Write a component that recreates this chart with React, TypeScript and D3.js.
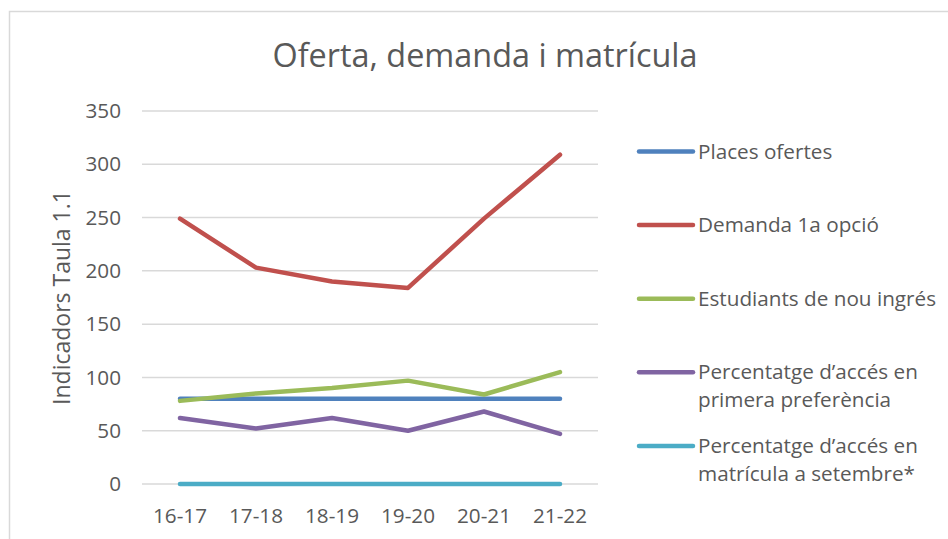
import React, { useEffect, useRef } from "react";
import * as d3 from "d3";

const categories = ["16-17", "17-18", "18-19", "19-20", "20-21", "21-22"];
const placesOfertes = [80, 80, 80, 80, 80, 80];
const demanda1a = [249, 203, 190, 184, 249, 309];
const nouIngres = [78, 85, 90, 97, 84, 105];
const accesPrimera = [62, 52, 62, 50, 68, 47];
const accesSetembre = [0, 0, 0, 0, 0, 0];
const yTicks = [0, 50, 100, 150, 200, 250, 300, 350];

const series = [
  { name: ["Places ofertes"], values: placesOfertes, color: "#4f81bd" },
  { name: ["Demanda 1a opció"], values: demanda1a, color: "#c0504d" },
  { name: ["Estudiants de nou ingrés"], values: nouIngres, color: "#9bbb59" },
  { name: ["Percentatge d’accés en", "primera preferència"], values: accesPrimera, color: "#8064a2" },
  { name: ["Percentatge d’accés en", "matrícula a setembre*"], values: accesSetembre, color: "#4bacc6" },
];

const W = 948;
const H = 539;
const FONT = "'Open Sans', Lato, sans-serif";
const TEXT = "#595959";

const App = () => {
  const svgRef = useRef(null);

  useEffect(() => {
    const svg = d3.select(svgRef.current);
    svg.selectAll("*").remove();

    const x = d3.scaleBand().domain(categories).range([142, 598]);
    const y = d3.scaleLinear().domain([0, 350]).range([484, 111]);
    const cx = (c) => x(c) + x.bandwidth() / 2;

    // chart area border (cut off at right/bottom)
    svg
      .append("rect")
      .attr("x", 9.5)
      .attr("y", 11.5)
      .attr("width", W + 20)
      .attr("height", H + 20)
      .attr("fill", "#fff")
      .attr("stroke", "#d9d9d9")
      .attr("stroke-width", 1.5);

    svg
      .append("text")
      .attr("x", 485)
      .attr("y", 67)
      .attr("text-anchor", "middle")
      .attr("font-family", FONT)
      .attr("font-size", 32.4)
      .attr("fill", TEXT)
      .text("Oferta, demanda i matrícula");

    // gridlines
    svg
      .append("g")
      .selectAll("line")
      .data(yTicks)
      .enter()
      .append("line")
      .attr("x1", 142)
      .attr("x2", 598)
      .attr("y1", (d) => y(d))
      .attr("y2", (d) => y(d))
      .attr("stroke", "#d9d9d9")
      .attr("stroke-width", 1.5);

    const yAxis = svg
      .append("g")
      .attr("transform", "translate(121,0)")
      .call(d3.axisLeft(y).tickValues(yTicks).tickSize(0).tickPadding(0));
    yAxis.select(".domain").remove();
    yAxis
      .selectAll("text")
      .attr("font-family", FONT)
      .attr("font-size", 20.7)
      .attr("fill", TEXT);

    const xAxis = svg
      .append("g")
      .attr("transform", "translate(0,523)")
      .call(d3.axisBottom(x).tickSize(0).tickPadding(0));
    xAxis.select(".domain").remove();
    xAxis
      .selectAll("text")
      .attr("y", 0)
      .attr("dy", 0)
      .attr("font-family", FONT)
      .attr("font-size", 20.7)
      .attr("fill", TEXT);

    svg
      .append("text")
      .attr("transform", `translate(70,${y(175)}) rotate(-90)`)
      .attr("text-anchor", "middle")
      .attr("font-family", FONT)
      .attr("font-size", 23)
      .attr("fill", TEXT)
      .text("Indicadors Taula 1.1");

    const line = d3
      .line()
      .x((d, i) => cx(categories[i]))
      .y((d) => y(d));

    series.forEach((s) => {
      svg
        .append("path")
        .datum(s.values)
        .attr("d", line)
        .attr("fill", "none")
        .attr("stroke", s.color)
        .attr("stroke-width", 4.5)
        .attr("stroke-linecap", "round")
        .attr("stroke-linejoin", "round");
    });

    // legend
    const legend = svg
      .selectAll(".legend")
      .data(series)
      .enter()
      .append("g")
      .attr("class", "legend")
      .attr("transform", (d, i) => `translate(639,${151.5 + i * 73.6})`);

    legend
      .append("line")
      .attr("x1", 0)
      .attr("x2", 54)
      .attr("stroke", (d) => d.color)
      .attr("stroke-width", 4.5)
      .attr("stroke-linecap", "round");

    legend
      .append("text")
      .attr("x", 59)
      .attr("y", 7)
      .attr("font-family", FONT)
      .attr("font-size", 20.7)
      .attr("fill", TEXT)
      .selectAll("tspan")
      .data((d) => d.name)
      .enter()
      .append("tspan")
      .attr("x", 59)
      .attr("dy", (d, i) => (i === 0 ? 0 : 28))
      .text((d) => d);
  }, []);

  return (
    <svg
      ref={svgRef}
      width={W}
      height={H}
      style={{ position: "absolute", left: 0, top: 0, background: "#fff" }}
    ></svg>
  );
};

export default App;
